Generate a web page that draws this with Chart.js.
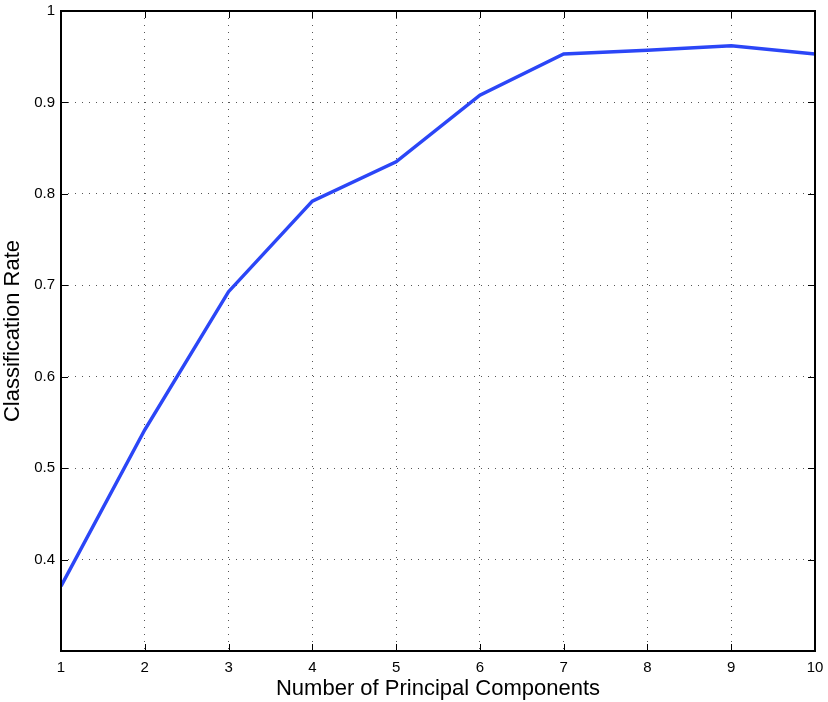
<!DOCTYPE html>
<html>
<head>
<meta charset="utf-8">
<style>
  html, body { margin: 0; padding: 0; background: #ffffff; }
  #wrap { width: 828px; height: 702px; }
</style>
<script src="https://cdn.jsdelivr.net/npm/chart.js@4/dist/chart.umd.min.js"></script>
</head>
<body>
<div id="wrap"><canvas id="chartRate" width="828" height="702"></canvas></div>
<script>
// taxa de classificação x número de componentes principais
const componentes = [1, 2, 3, 4, 5, 6, 7, 8, 9, 10];
const taxaClassificacao = [0.371, 0.542, 0.693, 0.792, 0.835, 0.908, 0.953, 0.957, 0.962, 0.953];
const yTicks = [0.4, 0.5, 0.6, 0.7, 0.8, 0.9, 1];

const FONT = '"Liberation Sans", Arial, Helvetica, sans-serif';

// moldura fechada + marcas de escala para dentro (estilo MATLAB)
const boxTicks = {
  id: 'boxTicks',
  afterDraw(chart) {
    const { ctx, chartArea: a, scales } = chart;
    const len = 7;
    ctx.save();
    ctx.strokeStyle = '#000';
    ctx.lineWidth = 1;
    ctx.beginPath();
    scales.x.ticks.forEach((t) => {
      const px = Math.round(scales.x.getPixelForValue(t.value)) + 0.5;
      ctx.moveTo(px, a.bottom); ctx.lineTo(px, a.bottom - len);
      ctx.moveTo(px, a.top); ctx.lineTo(px, a.top + len);
    });
    scales.y.ticks.forEach((t) => {
      const py = Math.round(scales.y.getPixelForValue(t.value)) + 0.5;
      ctx.moveTo(a.left, py); ctx.lineTo(a.left + len, py);
      ctx.moveTo(a.right, py); ctx.lineTo(a.right - len, py);
    });
    ctx.stroke();
    ctx.lineWidth = 2;
    ctx.strokeRect(a.left, a.top, a.right - a.left, a.bottom - a.top);
    ctx.restore();
  }
};

new Chart(document.getElementById('chartRate'), {
  type: 'line',
  data: {
    labels: componentes,
    datasets: [{
      data: taxaClassificacao,
      borderColor: '#2b46f7',
      borderWidth: 3.5,
      tension: 0,
      pointRadius: 0,
      fill: false,
    }],
  },
  options: {
    responsive: false,
    animation: false,
    events: [],
    layout: { padding: { top: 11, right: 13, left: 0, bottom: 0 } },
    plugins: { legend: { display: false }, tooltip: { enabled: false } },
    scales: {
      x: {
        type: 'linear',
        min: 1,
        max: 10,
        afterBuildTicks: (s) => { s.ticks = componentes.map((v) => ({ value: v })); },
        afterFit: (s) => { s.height = 51; s.paddingLeft = 0; s.paddingRight = 0; },
        grid: { color: '#555', lineWidth: 1, drawTicks: false },
        border: { display: false, dash: [1, 6] },
        ticks: { color: '#000', padding: 8, font: { family: FONT, size: 15 }, maxRotation: 0 },
        title: {
          display: true,
          text: 'Number of Principal Components',
          color: '#000',
          padding: { top: 0, bottom: 0 },
          font: { family: FONT, size: 22 },
        },
      },
      y: {
        min: 0.3,
        max: 1,
        afterBuildTicks: (s) => { s.ticks = yTicks.map((v) => ({ value: v })); },
        afterFit: (s) => { s.width = 61; s.paddingTop = 0; s.paddingBottom = 0; },
        grid: { color: '#555', lineWidth: 1, drawTicks: false },
        border: { display: false, dash: [1, 6] },
        ticks: {
          color: '#000',
          padding: 6,
          font: { family: FONT, size: 15 },
          callback: (v) => String(Math.round(v * 10) / 10),
        },
        title: {
          display: true,
          text: 'Classification Rate',
          color: '#000',
          padding: { top: 0, bottom: 0 },
          font: { family: FONT, size: 22 },
        },
      },
    },
  },
  plugins: [boxTicks],
});
</script>
</body>
</html>
